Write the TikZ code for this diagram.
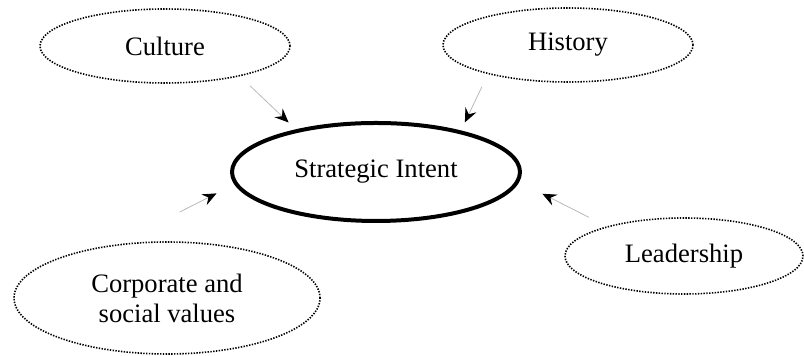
\documentclass[tikz,border=0pt]{standalone}
\usepackage{fontspec}
\setmainfont{Liberation Serif}
\usetikzlibrary{shapes.geometric,arrows.meta}

\begin{document}
\begin{tikzpicture}[x=0.5pt,y=-0.5pt]
			\tikzset{factor/.style={draw, ellipse, dash pattern=on 0.7pt off 0.7pt, line width=0.8pt, inner sep=0pt, font=\fontsize{13.3}{15}\selectfont, align=center},
				intent/.style={draw, ellipse, line width=2pt, inner sep=0pt, minimum width=144pt, minimum height=49pt, font=\fontsize{13.3}{15}\selectfont},
				feed/.style={gray!55, line width=0.4pt, -{Stealth[black,length=7pt,width=6pt,inset=2.5pt]}}}
			\useasboundingbox (0,0) rectangle (804,356);
			
			\node[intent] (strat) at (376,172) {Strategic Intent};
			\node[factor, minimum width=125pt, minimum height=37pt] (cult) at (165,46) {Culture};
			\node[factor, minimum width=125pt, minimum height=37pt] (hist) at (568,45) {History};
			\node[factor, minimum width=153pt, minimum height=56pt] (corp) at (167,298) {Corporate and\\social values};
			\node[factor, minimum width=119pt, minimum height=38pt] (lead) at (684,256) {Leadership};
			
			\draw[feed, shorten <=7pt, shorten >=5pt] (cult.-22) -- (strat.152);
			\draw[feed, shorten <=7pt, shorten >=4.5pt] (hist.-160) -- (strat.26);
			\draw[feed, shorten <=36pt, shorten >=10pt] (corp.134) -- (strat.-175);
			\draw[feed, shorten <=10pt, shorten >=13pt] (lead.159) -- (strat.-4);
		\end{tikzpicture}
\end{document}
